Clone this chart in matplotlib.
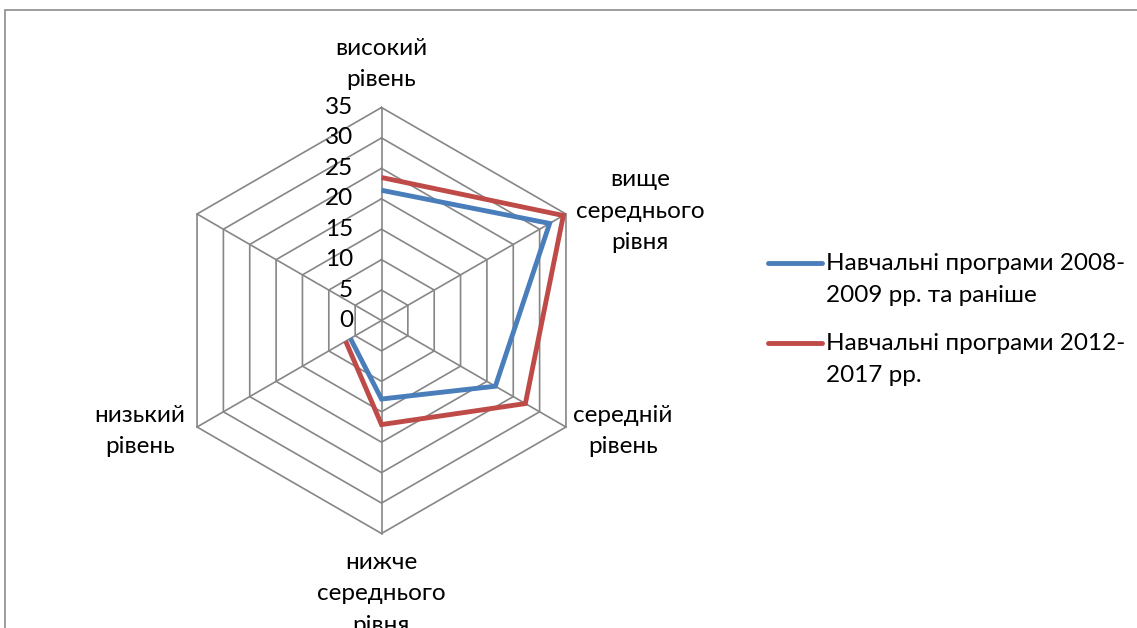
import numpy as np
import matplotlib
matplotlib.use("Agg")
import matplotlib.pyplot as plt
from matplotlib.lines import Line2D
from matplotlib.patches import Rectangle

plt.rcParams['font.family'] = ['Lato', 'DejaVu Sans']

categories = ["високий\nрівень", "вище\nсереднього\nрівня", "середній\nрівень",
              "нижче\nсереднього\nрівня", "низький\nрівень", ""]
series_names = ["Навчальні програми 2008-\n2009 рр. та раніше",
                "Навчальні програми 2012-\n2017 рр."]
series_old = [21.4, 31.9, 21.6, 12.9, 5.9]
series_new = [23.5, 34.5, 27.3, 17.1, 6.8]
ticks = [0, 5, 10, 15, 20, 25, 30, 35]
colors = ["#4a7ebb", "#be4b48"]

W, H, DPI = 1137, 628, 100
fig = plt.figure(figsize=(W / DPI, H / DPI), dpi=DPI)
fig.patch.set_facecolor("white")

FS = 17.5
LS = 1.6

# pixel geometry of the plot
cx_px, cy_px, r_px = 381.5, 320.5, 213.0
rmax = ticks[-1]
s = r_px / rmax  # px per unit
ax = fig.add_axes([0, 0, 1, 1])
ax.set_xlim(-cx_px / s, (W - cx_px) / s)
ax.set_ylim(-(H - cy_px) / s, cy_px / s)
ax.axis("off")

n = len(categories)
angles = np.pi / 2 - 2 * np.pi * np.arange(n) / n

def xy(vals):
    v = np.asarray(vals, dtype=float)
    a = angles[:len(v)]
    return v * np.cos(a), v * np.sin(a)

grid_c = "#868686"
# polygon grid
for t in ticks[1:]:
    gx, gy = xy([t] * n)
    ax.plot(np.append(gx, gx[0]), np.append(gy, gy[0]), color=grid_c, lw=1.2, zorder=1)
# spokes
for a in angles:
    ax.plot([0, rmax * np.cos(a)], [0, rmax * np.sin(a)], color=grid_c, lw=1.2, zorder=1)

# tick labels
for t in ticks:
    ax.text(-28.5 / s, t, str(t), ha="right", va="center", fontsize=FS, color="black")

# series
for vals, c in zip([series_old, series_new], colors):
    px, py = xy(vals)
    ax.plot(px, py, color=c, lw=3.5, solid_capstyle="butt", solid_joinstyle="miter", zorder=3)

# category labels (pixel positions of label centres)
lab_pos = [(381, 64), (640, 211), (623, 431), (381, 594), (140, 431)]
for lab, (lx, ly) in zip(categories[:5], lab_pos):
    fig.text(lx / W, 1 - ly / H, lab, ha="center", va="center", fontsize=FS,
             linespacing=LS, color="black")

# legend (manual)
leg_items = [(263, series_names[0], colors[0]), (343, series_names[1], colors[1])]
for ly, lab, c in leg_items:
    fig.add_artist(Line2D([768 / W, 822 / W], [1 - ly / H, 1 - ly / H], color=c, lw=3.5,
                          transform=fig.transFigure, solid_capstyle="round"))
    fig.text(826 / W, 1 - (ly + 16.5) / H, lab, ha="left", va="center", fontsize=FS,
             linespacing=LS, color="black")

# outer frame
fig.add_artist(Rectangle((4.5 / W, -0.1), 1.2, 1 - 10.5 / H + 0.1, transform=fig.transFigure,
                         fill=False, edgecolor="#8c8c8c", lw=1.2))

fig.savefig("out.png", dpi=DPI)
